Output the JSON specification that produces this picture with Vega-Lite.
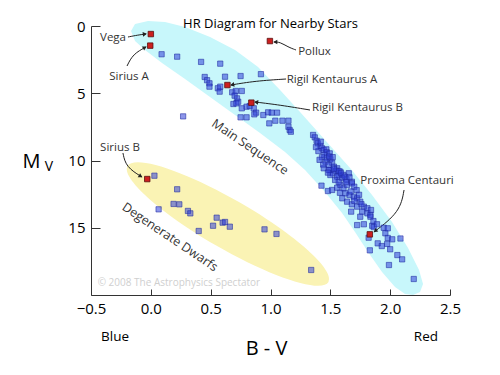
{
  "$schema": "https://vega.github.io/schema/vega-lite/v6.json",
  "width": 359,
  "height": 269,
  "autosize": {"type": "none"},
  "padding": {"left": 91, "top": 26, "right": 50, "bottom": 80},
  "background": "white",
  "config": {"view": {"stroke": null}, "font": "Open Sans"},
  "title": {"text": "HR Diagram for Nearby Stars", "font": "Open Sans", "fontSize": 13, "fontWeight": "normal", "color": "#000", "anchor": "middle", "frame": "group", "baseline": "alphabetic", "offset": 1, "dy": 23},
  "encoding": {
    "x": {"field": "bv", "type": "quantitative", "scale": {"domain": [-0.5, 2.5], "nice": false, "zero": false},
      "axis": {"values": [-0.5, 0, 0.5, 1, 1.5, 2, 2.5], "format": ".1f", "title": null, "grid": false, "tickSize": -6, "labelPadding": 12, "labelFontSize": 15, "labelFont": "Open Sans", "labelColor": "#000", "domainColor": "#333", "tickColor": "#333", "labelFlush": false, "labelOverlap": false}},
    "y": {"field": "mv", "type": "quantitative", "scale": {"domain": [0, 20], "reverse": true, "nice": false, "zero": false},
      "axis": {"values": [0, 5, 10, 15], "title": null, "grid": false, "tickSize": -9, "labelPadding": 15, "labelFontSize": 15, "labelFont": "Open Sans", "labelColor": "#000", "domainColor": "#333", "tickColor": "#333", "labelFlush": false, "labelOverlap": false}}
  },
  "layer": [
    {
      "data": {"values": [{"region": "Main Sequence", "bv": 1.2, "mv": 10}]},
      "mark": {"type": "point", "filled": true, "opacity": 1, "fill": "#c8f7fb", "strokeWidth": 0, "size": 4,
        "shape": "M -163.4 -129.5 L -159.4 -136.5 L -146.4 -139.5 L -129.4 -138.5 L -109.4 -133.5 L -84.4 -123.5 L -59.4 -110.5 L -36.4 -93.5 L -14.4 -70.5 L 5.6 -48.5 L 30.6 -20.5 L 55.6 7.5 L 77.6 34.5 L 97.6 61.5 L 113.6 87.5 L 124.6 109.5 L 128.6 123.5 L 125.6 131.5 L 118.6 134.5 L 110.6 133.5 L 100.6 126.5 L 87.6 111.5 L 73.6 91.5 L 60.6 71.5 L 47.6 52.5 L 30.6 31.5 L 10.6 9.5 L -9.4 -8.5 L -34.4 -27.5 L -59.4 -45.5 L -84.4 -63.5 L -109.4 -81.5 L -132.4 -97.5 L -149.4 -110.5 L -159.4 -119.5 Z"}
    },
    {
      "data": {"values": [{"region": "Degenerate Dwarfs", "bv": 0.645, "mv": 14.72}]},
      "mark": {"type": "point", "filled": true, "opacity": 1, "fill": "#faf3b4", "strokeWidth": 0, "size": 4,
        "shape": "M 100.46 58 C 93.69 69.72 43.24 53.26 -12.25 21.22 C -67.74 -10.82 -107.23 -46.28 -100.46 -58 C -93.69 -69.72 -43.24 -53.26 12.25 -21.22 C 67.74 10.82 107.23 46.28 100.46 58 Z"}
    },
    {
      "data": {"values": [
        {"star": "Vega", "k": 0, "bv": -0.191, "mv": 0.818}, {"star": "Vega", "k": 1, "bv": -0.107, "mv": 0.669}, {"star": "Vega", "k": 2, "bv": -0.04, "mv": 0.595},
        {"star": "Sirius A", "k": 0, "bv": -0.199, "mv": 2.974}, {"star": "Sirius A", "k": 1, "bv": -0.149, "mv": 2.082}, {"star": "Sirius A", "k": 2, "bv": -0.04, "mv": 1.561},
        {"star": "Pollux", "k": 0, "bv": 1.213, "mv": 1.784}, {"star": "Pollux", "k": 1, "bv": 1.146, "mv": 1.561}, {"star": "Pollux", "k": 2, "bv": 1.079, "mv": 1.19}, {"star": "Pollux", "k": 3, "bv": 1.029, "mv": 1.19},
        {"star": "Rigil Kentaurus A", "k": 0, "bv": 1.13, "mv": 3.941}, {"star": "Rigil Kentaurus A", "k": 1, "bv": 0.871, "mv": 4.089}, {"star": "Rigil Kentaurus A", "k": 2, "bv": 0.67, "mv": 4.387},
        {"star": "Rigil Kentaurus B", "k": 0, "bv": 1.33, "mv": 6.245}, {"star": "Rigil Kentaurus B", "k": 1, "bv": 1.079, "mv": 5.874}, {"star": "Rigil Kentaurus B", "k": 2, "bv": 0.871, "mv": 5.651},
        {"star": "Sirius B", "k": 0, "bv": -0.233, "mv": 9.442}, {"star": "Sirius B", "k": 1, "bv": -0.208, "mv": 10.483}, {"star": "Sirius B", "k": 2, "bv": -0.074, "mv": 11.227},
        {"star": "Proxima Centauri", "k": 0, "bv": 2.116, "mv": 12.193}, {"star": "Proxima Centauri", "k": 1, "bv": 2.082, "mv": 13.829}, {"star": "Proxima Centauri", "k": 2, "bv": 1.865, "mv": 15.316}
      ]},
      "mark": {"type": "line", "interpolate": "basis", "color": "#222", "strokeWidth": 1},
      "encoding": {"detail": {"field": "star"}, "order": {"field": "k", "type": "quantitative"}}
    },
    {
      "data": {"values": [
        {"bv":0.09,"mv":2.10},{"bv":0.22,"mv":2.28},{"bv":0.42,"mv":2.67},{"bv":0.58,"mv":2.80},{"bv":0.45,"mv":3.79},{"bv":0.47,"mv":4.03},{"bv":0.49,"mv":4.26},{"bv":0.49,"mv":4.51},{"bv":0.62,"mv":3.77},{"bv":0.75,"mv":3.72},
        {"bv":0.92,"mv":3.58},{"bv":0.56,"mv":4.63},{"bv":0.58,"mv":4.51},{"bv":0.575,"mv":4.88},{"bv":0.27,"mv":6.72},{"bv":0.68,"mv":4.93},{"bv":0.71,"mv":4.83},{"bv":0.76,"mv":4.83},{"bv":0.70,"mv":5.18},{"bv":0.72,"mv":5.38},
        {"bv":0.73,"mv":5.63},{"bv":0.69,"mv":5.80},{"bv":0.715,"mv":5.75},{"bv":0.76,"mv":6.12},{"bv":0.80,"mv":6.00},{"bv":0.826,"mv":5.95},{"bv":0.86,"mv":6.12},{"bv":0.88,"mv":6.44},{"bv":0.865,"mv":6.57},{"bv":0.94,"mv":6.62},
        {"bv":0.98,"mv":6.42},{"bv":1.01,"mv":6.44},{"bv":1.055,"mv":6.44},{"bv":1.04,"mv":7.04},{"bv":1.10,"mv":7.04},{"bv":1.15,"mv":7.04},{"bv":0.99,"mv":7.24},{"bv":0.75,"mv":6.79},{"bv":0.80,"mv":6.79},{"bv":1.15,"mv":7.49},
        {"bv":1.16,"mv":7.73},{"bv":1.17,"mv":7.86},{"bv":1.356,"mv":8.10},{"bv":1.37,"mv":8.28},{"bv":1.385,"mv":8.53},{"bv":1.395,"mv":8.72},{"bv":1.417,"mv":8.92},{"bv":1.43,"mv":9.09},{"bv":1.445,"mv":9.22},{"bv":1.467,"mv":9.17},
        {"bv":1.47,"mv":9.39},{"bv":1.495,"mv":9.47},{"bv":1.45,"mv":9.59},{"bv":1.43,"mv":9.76},{"bv":1.47,"mv":9.84},{"bv":1.50,"mv":9.91},{"bv":1.46,"mv":10.09},{"bv":1.515,"mv":10.16},{"bv":1.487,"mv":10.33},{"bv":1.53,"mv":10.46},
        {"bv":1.557,"mv":10.58},{"bv":1.55,"mv":10.76},{"bv":1.584,"mv":10.83},{"bv":1.57,"mv":11.08},{"bv":1.61,"mv":11.08},{"bv":1.60,"mv":11.32},{"bv":1.635,"mv":11.40},{"bv":1.68,"mv":11.58},{"bv":1.50,"mv":10.71},{"bv":1.52,"mv":10.95},
        {"bv":1.654,"mv":10.95},{"bv":1.445,"mv":10.58},{"bv":1.487,"mv":10.71},{"bv":1.57,"mv":10.78},{"bv":1.50,"mv":11.08},{"bv":1.557,"mv":11.20},{"bv":1.426,"mv":11.87},{"bv":1.48,"mv":12.27},{"bv":1.515,"mv":12.19},{"bv":1.557,"mv":12.02},
        {"bv":1.584,"mv":11.82},{"bv":1.61,"mv":12.07},{"bv":1.64,"mv":11.82},{"bv":1.68,"mv":11.70},{"bv":1.626,"mv":12.44},{"bv":1.66,"mv":12.57},{"bv":1.696,"mv":12.69},{"bv":1.724,"mv":12.81},{"bv":1.60,"mv":12.81},{"bv":1.64,"mv":13.06},
        {"bv":1.68,"mv":13.26},{"bv":1.724,"mv":13.43},{"bv":1.75,"mv":13.06},{"bv":1.78,"mv":13.43},{"bv":1.81,"mv":13.55},{"bv":1.766,"mv":13.80},{"bv":1.81,"mv":13.93},{"bv":1.84,"mv":13.68},{"bv":1.835,"mv":14.05},{"bv":1.674,"mv":13.80},
        {"bv":1.724,"mv":14.80},{"bv":1.78,"mv":14.74},{"bv":1.85,"mv":14.85},{"bv":1.946,"mv":15.0},{"bv":1.82,"mv":15.74},{"bv":1.896,"mv":16.16},{"bv":1.93,"mv":16.36},{"bv":1.975,"mv":16.20},{"bv":2.0,"mv":16.60},{"bv":1.96,"mv":15.41},
        {"bv":1.98,"mv":15.76},{"bv":2.017,"mv":15.86},{"bv":2.086,"mv":15.80},{"bv":1.98,"mv":15.04},{"bv":1.863,"mv":14.95},{"bv":1.83,"mv":16.68},{"bv":2.06,"mv":17.03},{"bv":2.10,"mv":17.35},{"bv":1.99,"mv":17.77},{"bv":2.197,"mv":18.81},
        {"bv":1.75,"mv":14.18},{"bv":1.835,"mv":14.18},{"bv":1.86,"mv":14.50},{"bv":1.89,"mv":14.74},
        {"bv":1.53,"mv":10.62},{"bv":1.59,"mv":10.95},{"bv":1.62,"mv":11.2},{"bv":1.54,"mv":11.45},{"bv":1.66,"mv":11.25},{"bv":1.57,"mv":11.6},{"bv":1.63,"mv":11.6},{"bv":1.70,"mv":11.95},{"bv":1.72,"mv":12.2},{"bv":1.67,"mv":12.3},
        {"bv":1.58,"mv":12.4},{"bv":1.74,"mv":12.55},{"bv":1.70,"mv":13.0},{"bv":1.76,"mv":13.25},{"bv":1.48,"mv":10.9},{"bv":1.44,"mv":10.3},{"bv":1.41,"mv":9.95},{"bv":1.49,"mv":9.7},{"bv":1.52,"mv":9.75},{"bv":1.40,"mv":9.3},
        {"bv":1.38,"mv":9.0},{"bv":1.42,"mv":8.6},
        {"bv":0.03,"mv":11.13},{"bv":0.22,"mv":12.14},{"bv":0.065,"mv":13.63},{"bv":0.19,"mv":13.23},{"bv":0.238,"mv":13.26},{"bv":0.31,"mv":13.75},{"bv":0.33,"mv":13.93},{"bv":0.40,"mv":15.24},{"bv":0.55,"mv":14.25},{"bv":0.52,"mv":14.85},
        {"bv":0.60,"mv":14.62},{"bv":0.62,"mv":14.57},{"bv":0.66,"mv":14.92},{"bv":0.95,"mv":15.12},{"bv":1.05,"mv":15.46},{"bv":1.34,"mv":18.14}
      ]},
      "mark": {"type": "point", "shape": "square", "filled": true, "size": 28, "fill": "#2f40d8", "fillOpacity": 0.55, "opacity": 1, "stroke": "#1f2aa0", "strokeOpacity": 0.7, "strokeWidth": 0.8}
    },
    {
      "data": {"values": [
        {"star": "Vega", "bv": 0.0, "mv": 0.6},
        {"star": "Sirius A", "bv": -0.005, "mv": 1.46},
        {"star": "Pollux", "bv": 0.995, "mv": 1.12},
        {"star": "Rigil Kentaurus A", "bv": 0.64, "mv": 4.39},
        {"star": "Rigil Kentaurus B", "bv": 0.84, "mv": 5.70},
        {"star": "Sirius B", "bv": -0.03, "mv": 11.38},
        {"star": "Proxima Centauri", "bv": 1.83, "mv": 15.49}
      ]},
      "mark": {"type": "point", "shape": "square", "filled": true, "size": 30, "fill": "#cc1f1f", "opacity": 1, "stroke": "#5a1010", "strokeWidth": 0.8}
    },
    {
      "data": {"values": [
        {"star": "Vega", "bv": -0.05, "mv": 0.60, "heading": -7},
        {"star": "Sirius A", "bv": -0.05, "mv": 1.60, "heading": -28},
        {"star": "Pollux", "bv": 1.04, "mv": 1.19, "heading": 180},
        {"star": "Rigil Kentaurus A", "bv": 0.68, "mv": 4.37, "heading": 170},
        {"star": "Rigil Kentaurus B", "bv": 0.88, "mv": 5.66, "heading": 187},
        {"star": "Sirius B", "bv": -0.085, "mv": 11.17, "heading": 32},
        {"star": "Proxima Centauri", "bv": 1.875, "mv": 15.24, "heading": 142}
      ]},
      "mark": {"type": "point", "shape": "triangle-right", "filled": true, "size": 22, "color": "#222", "opacity": 1},
      "encoding": {"angle": {"field": "heading", "type": "quantitative", "scale": null}}
    },
    {
      "data": {"values": [
        {"label": "Vega", "bv": -0.316, "mv": 0.89},
        {"label": "Sirius A", "bv": -0.182, "mv": 3.79},
        {"label": "Pollux", "bv": 1.368, "mv": 1.93},
        {"label": "Rigil Kentaurus A", "bv": 1.514, "mv": 4.01},
        {"label": "Rigil Kentaurus B", "bv": 1.727, "mv": 6.10},
        {"label": "Sirius B", "bv": -0.258, "mv": 9.07},
        {"label": "Proxima Centauri", "bv": 2.141, "mv": 11.52}
      ]},
      "mark": {"type": "text", "font": "Open Sans", "fontSize": 11.5, "color": "#333", "align": "center", "baseline": "middle"},
      "encoding": {"text": {"field": "label"}}
    },
    {
      "data": {"values": [
        {"label": "Main Sequence", "bv": 0.829, "mv": 9.0},
        {"label": "Degenerate Dwarfs", "bv": 0.16, "mv": 15.69}
      ]},
      "mark": {"type": "text", "font": "Open Sans", "fontSize": 12.5, "color": "#333", "align": "center", "baseline": "middle", "angle": 34},
      "encoding": {"text": {"field": "label"}}
    },
    {
      "data": {"values": [{"label": "© 2008 The Astrophysics Spectator", "bv": 0.235, "mv": 19.11}]},
      "mark": {"type": "text", "font": "Open Sans", "fontSize": 10, "color": "#cfcfcf", "align": "center", "baseline": "middle"},
      "encoding": {"text": {"field": "label"}}
    },
    {
      "data": {"values": [{"label": "Blue", "bv": -0.299, "mv": 23.12}, {"label": "Red", "bv": 2.299, "mv": 23.12}]},
      "mark": {"type": "text", "font": "Open Sans", "fontSize": 13.5, "color": "#000", "align": "center", "baseline": "middle"},
      "encoding": {"text": {"field": "label"}}
    },
    {
      "data": {"values": [{"label": "B - V", "bv": 0.967, "mv": 24.01}, {"label": "M", "bv": -0.997, "mv": 10.09}]},
      "mark": {"type": "text", "font": "Open Sans", "fontSize": 20, "color": "#000", "align": "center", "baseline": "middle"},
      "encoding": {"text": {"field": "label"}}
    },
    {
      "data": {"values": [{"label": "V", "bv": -0.851, "mv": 10.48}]},
      "mark": {"type": "text", "font": "Open Sans", "fontSize": 14, "color": "#000", "align": "center", "baseline": "middle"},
      "encoding": {"text": {"field": "label"}}
    }
  ]
}
